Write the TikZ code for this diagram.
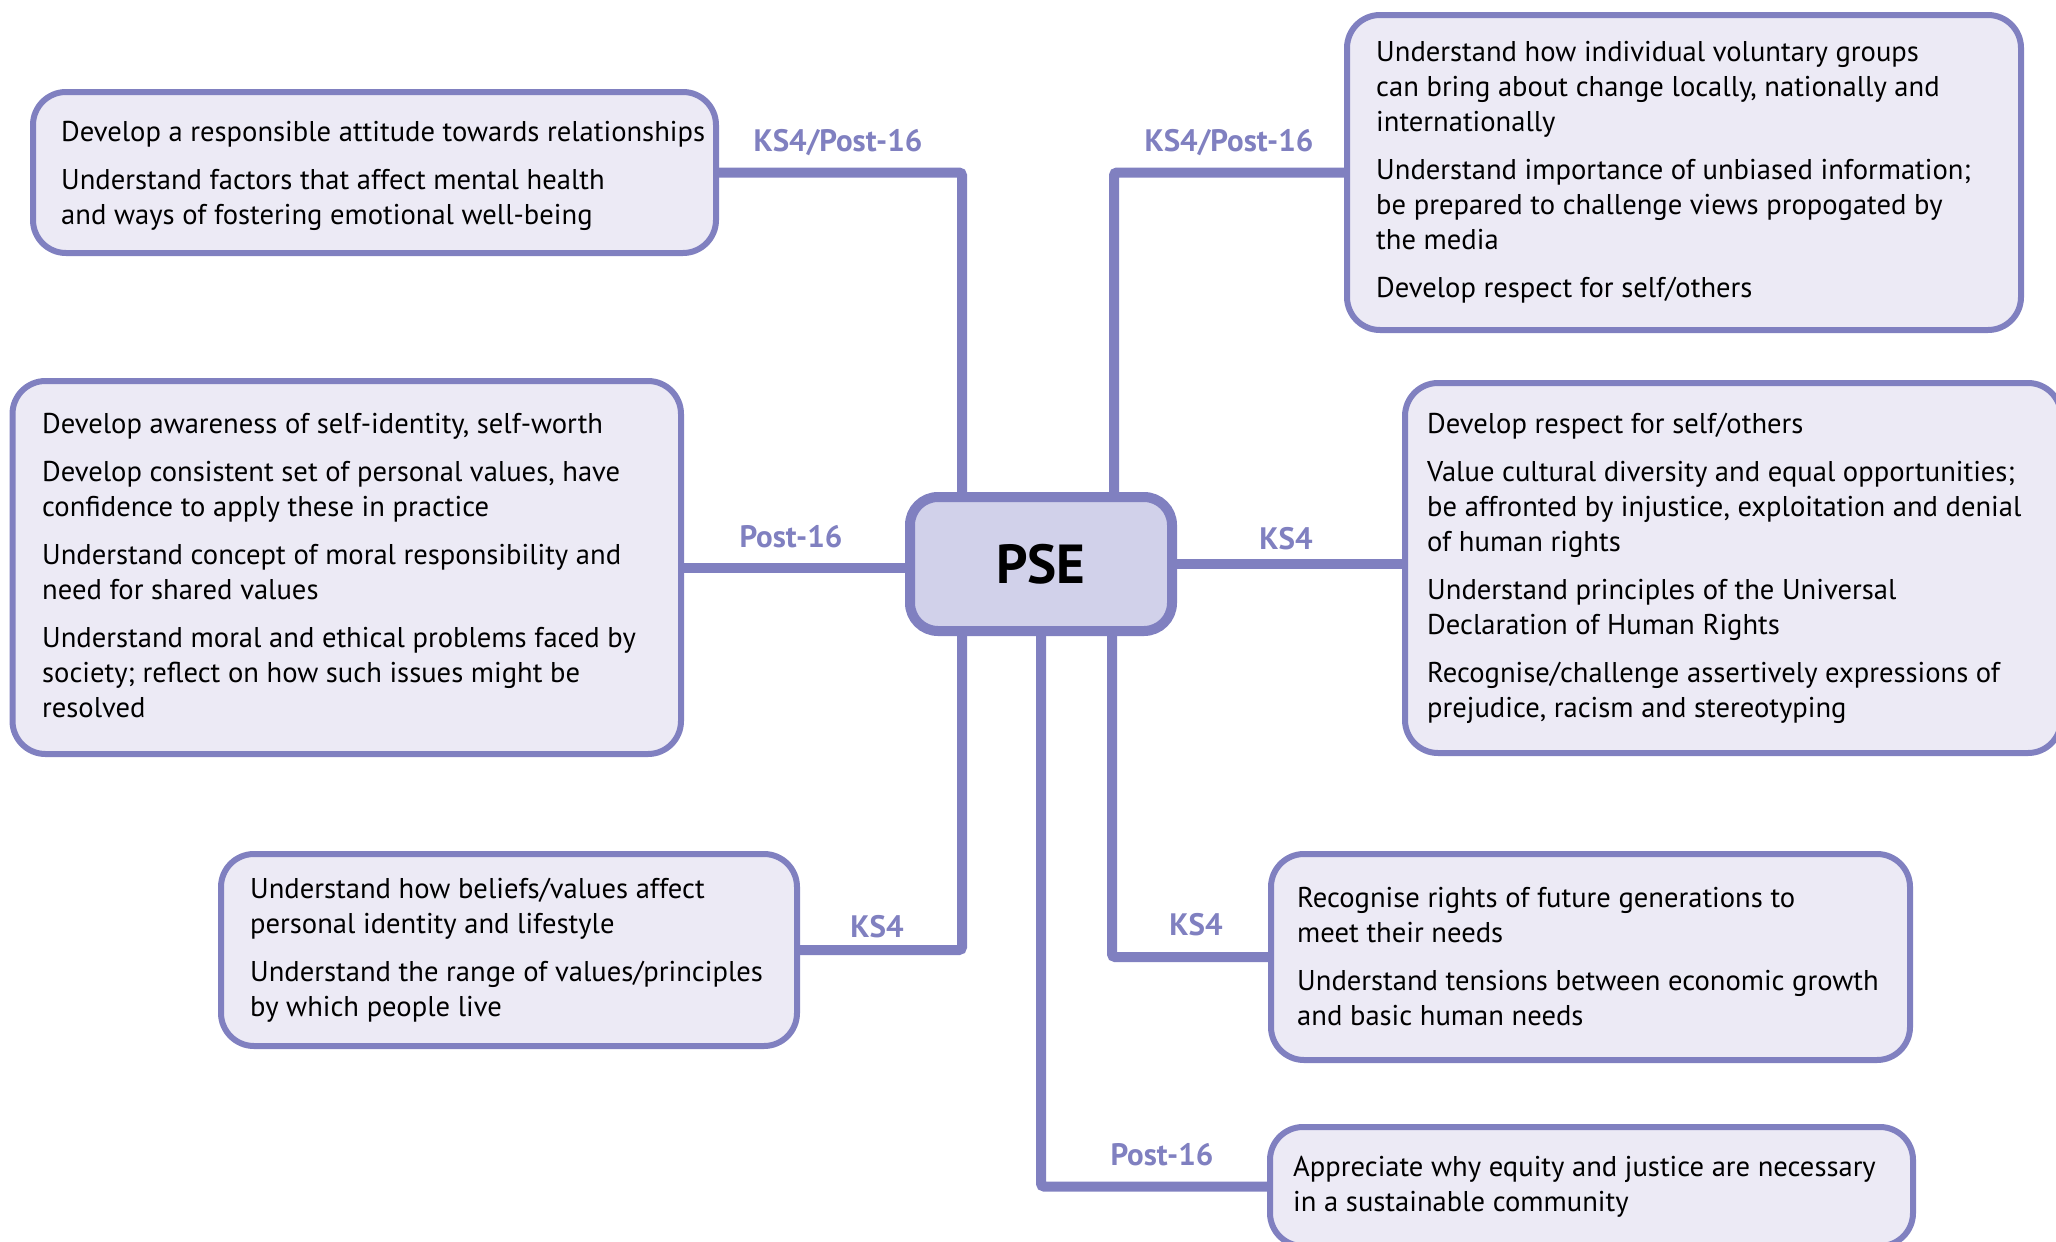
\documentclass[tikz,border=0pt]{standalone}
\usepackage{fontspec}
\setmainfont{PT Sans}
\usetikzlibrary{backgrounds}
\definecolor{edge}{RGB}{128,128,192}
\definecolor{hubfill}{RGB}{209,209,234}
\definecolor{cardfill}{RGB}{236,234,245}
\tikzset{
  card/.style={draw=edge, fill=cardfill, line width=6pt, rounded corners=33pt, inner sep=0pt},
  hub/.style={draw=edge, fill=hubfill, line width=10pt, rounded corners=28pt, inner sep=0pt,
    minimum width=262pt, minimum height=134pt, font=\fontsize{55}{60}\selectfont\bfseries},
  cardtext/.style={anchor=west, align=left, inner sep=0pt, font=\fontsize{28.6}{35}\selectfont},
  stage/.style={anchor=base, text=edge, inner sep=0pt, font=\fontsize{31}{37}\selectfont\bfseries},
  link/.style={draw=edge, line width=10pt, rounded corners=3pt},
}
\begin{document}
\begin{tikzpicture}[x=1pt, y=-1pt]
\useasboundingbox (0,0) rectangle (2056,1242);
\clip (0,0) rectangle (2056,1242);

% central topic
\node[hub] (pse) at (1041,564) {PSE};

% topic cards
\node[card, minimum width=683pt, minimum height=161pt] (b1) at (374.5,172.5) {};
\node[card, minimum width=674pt, minimum height=315pt] (b2) at (1684,172.5) {};
\node[card, minimum width=668.5pt, minimum height=373pt] (b3) at (346.75,567.5) {};
\node[card, minimum width=656pt, minimum height=370pt] (b4) at (1733,568) {};
\node[card, minimum width=576pt, minimum height=192pt] (b5) at (509,950) {};
\node[card, minimum width=639pt, minimum height=206pt] (b6) at (1590.5,957) {};
\node[card, minimum width=643pt, minimum height=119pt] (b7) at (1591.5,1186.5) {};

% connectors from the hub to each card, behind the boxes
\begin{pgfonlayer}{background}
\draw[link] (b1.east) -| ([xshift=-79pt]pse.north);
\draw[link] (b2.west) -| ([xshift=73pt]pse.north);
\draw[link] (b3.east) -- (b3.east -| pse.west);
\draw[link] (pse.east) -- (pse.east -| b4.west);
\draw[link] ([xshift=-79pt]pse.south) |- (b5.east);
\draw[link] ([xshift=71pt]pse.south) |- (b6.west);
\draw[link] (pse.south) |- (b7.west);
\end{pgfonlayer}

% card texts
\node[cardtext] (t1) at ([xshift=31pt,yshift=-3pt]b1.west) {Develop a responsible attitude towards relationships\\[13pt]
Understand factors that affect mental health\\
and ways of fostering emotional well-being};

\node[cardtext] (t2) at ([xshift=32pt]b2.west) {Understand how individual voluntary groups\\
can bring about change locally, nationally and\\
internationally\\[13pt]
Understand importance of unbiased information;\\
be prepared to challenge views propogated by\\
the media\\[13pt]
Develop respect for self/others};

\node[cardtext] (t3) at ([xshift=32.5pt,yshift=2pt]b3.west) {Develop awareness of self-identity, self-worth\\[13pt]
Develop consistent set of personal values, have\\
confidence to apply these in practice\\[13pt]
Understand concept of moral responsibility and\\
need for shared values\\[13pt]
Understand moral and ethical problems faced by\\
society; reflect on how such issues might be\\
resolved};

\node[cardtext] (t4) at ([xshift=25pt]b4.west) {Develop respect for self/others\\[13pt]
Value cultural diversity and equal opportunities;\\
be affronted by injustice, exploitation and denial\\
of human rights\\[13pt]
Understand principles of the Universal\\
Declaration of Human Rights\\[13pt]
Recognise/challenge assertively expressions of\\
prejudice, racism and stereotyping};

\node[cardtext] (t5) at ([xshift=32pt]b5.west) {Understand how beliefs/values affect\\
personal identity and lifestyle\\[13pt]
Understand the range of values/principles\\
by which people live};

\node[cardtext] (t6) at ([xshift=29pt]b6.west) {Recognise rights of future generations to\\
meet their needs\\[13pt]
Understand tensions between economic growth\\
and basic human needs};

\node[cardtext] (t7) at ([xshift=26pt]b7.west) {Appreciate why equity and justice are necessary\\
in a sustainable community};

% stage labels on the connectors
\node[stage] (s1) at (838,151) {KS4/Post-16};
\node[stage] (s2) at (1229,151) {KS4/Post-16};
\node[stage] (s3) at (791,547) {Post-16};
\node[stage] (s4) at (1286,549) {KS4};
\node[stage] (s5) at (877,937) {KS4};
\node[stage] (s6) at (1196,935) {KS4};
\node[stage] (s7) at (1162,1165) {Post-16};
\end{tikzpicture}
\end{document}
